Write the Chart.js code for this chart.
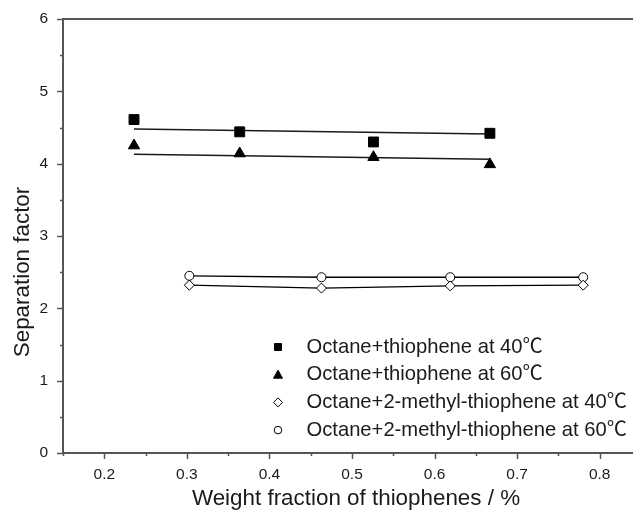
<!DOCTYPE html>
<html>
<head>
<meta charset="utf-8">
<script src="https://cdn.jsdelivr.net/npm/chart.js@4/dist/chart.umd.min.js"></script>
<style>
  html, body { margin: 0; padding: 0; background: #fff; overflow: hidden; }
  #wrap { width: 633px; height: 517px; overflow: hidden; }
</style>
</head>
<body>
<div id="wrap"><canvas id="chart" width="660" height="517"></canvas></div>
<script>
// values
const seriesLabels = [
    'Octane+thiophene at 40\u2103',
    'Octane+thiophene at 60\u2103',
    'Octane+2-methyl-thiophene at 40\u2103',
    'Octane+2-methyl-thiophene at 60\u2103'
]
const thioX = [0.236, 0.364, 0.526, 0.667]
const thio40Y = [4.61, 4.44, 4.30, 4.42]
const thio60Y = [4.25, 4.14, 4.09, 3.99]
const methylX = [0.303, 0.463, 0.619, 0.780]
const methyl40Y = [2.32, 2.28, 2.31, 2.32]
const methyl60Y = [2.45, 2.43, 2.43, 2.43]
// fitted lines (ends)
const fitX = [0.236, 0.667]
const fit40Y = [4.48, 4.41]
const fit60Y = [4.13, 4.06]

const xTickValues = [0.15, 0.2, 0.25, 0.3, 0.35, 0.4, 0.45, 0.5, 0.55, 0.6, 0.65, 0.7, 0.75, 0.8, 0.85]
const xTickLabels = ['', '0.2', '', '0.3', '', '0.4', '', '0.5', '', '0.6', '', '0.7', '', '0.8', '']
const yTickValues = [0, 0.5, 1, 1.5, 2, 2.5, 3, 3.5, 4, 4.5, 5, 5.5, 6]
const yTickLabels = ['0', '', '1', '', '2', '', '3', '', '4', '', '5', '', '6']
const xTitle = 'Weight fraction of thiophenes / %'
const yTitle = 'Separation factor'

const FONT = '"Liberation Sans", Arial, "Noto Sans CJK SC", sans-serif'
const AXIS = '#555'
const INK = '#1a1a1a'

const toPoints = (xs, ys) => xs.map((x, i) => ({x: x, y: ys[i]}))

const fitLine = (ys) => ({
    data: toPoints(fitX, ys),
    showLine: true,
    borderColor: '#1a1a1a',
    borderWidth: 1.5,
    pointRadius: 0,
    order: 3
})

const markerStyles = [
    {style: 'rect', fill: '#000', r: 7},
    {style: 'triangle', fill: '#000', r: 6.5},
    {style: 'rectRot', fill: '#fff', r: 5},
    {style: 'circle', fill: '#fff', r: 4.5}
]

const frame = {
    id: 'frame',
    afterDraw(chart) {
        const {ctx, chartArea, scales} = chart
        ctx.save()
        ctx.strokeStyle = AXIS
        ctx.lineWidth = 2
        ctx.beginPath()
        ctx.moveTo(chartArea.left - 1, chartArea.top)
        ctx.lineTo(chartArea.right, chartArea.top)
        ctx.stroke()

        ctx.lineWidth = 1.5
        scales.x.ticks.forEach(t => {
            const px = Math.round(scales.x.getPixelForValue(t.value)) + 0.5
            const len = t.label ? 6 : 3
            ctx.beginPath()
            ctx.moveTo(px, chartArea.bottom)
            ctx.lineTo(px, chartArea.bottom + len)
            ctx.stroke()
        })
        scales.y.ticks.forEach(t => {
            const py = Math.round(scales.y.getPixelForValue(t.value)) + 0.5
            const len = t.label ? 6 : 3
            ctx.beginPath()
            ctx.moveTo(chartArea.left - len, py)
            ctx.lineTo(chartArea.left, py)
            ctx.stroke()
        })

        // axis titles
        ctx.fillStyle = INK
        ctx.font = '22.4px ' + FONT
        ctx.textAlign = 'center'
        ctx.textBaseline = 'middle'
        ctx.fillText(xTitle, 356, 499)
        ctx.save()
        ctx.translate(23, 272)
        ctx.rotate(-Math.PI / 2)
        ctx.fillText(yTitle, 0, 0)
        ctx.restore()

        // legend
        ctx.font = '20.2px ' + FONT
        ctx.textAlign = 'left'
        seriesLabels.forEach((label, i) => {
            const cy = 347 + i * 27.7
            const cx = 278
            ctx.fillStyle = markerStyles[i].fill
            ctx.strokeStyle = '#000'
            ctx.lineWidth = 1
            ctx.beginPath()
            if (i === 0) {
                ctx.rect(cx - 3.5, cy - 3.5, 7, 7)
            } else if (i === 1) {
                ctx.moveTo(cx, cy - 4.5)
                ctx.lineTo(cx + 4.5, cy + 3.5)
                ctx.lineTo(cx - 4.5, cy + 3.5)
                ctx.closePath()
            } else if (i === 2) {
                ctx.moveTo(cx, cy - 4.5)
                ctx.lineTo(cx + 4.5, cy)
                ctx.lineTo(cx, cy + 4.5)
                ctx.lineTo(cx - 4.5, cy)
                ctx.closePath()
            } else {
                ctx.arc(cx, cy, 3.8, 0, Math.PI * 2)
            }
            ctx.fill()
            ctx.stroke()
            ctx.fillStyle = INK
            ctx.fillText(label, 306.5, cy)
        })
        ctx.restore()
    }
}

const ctx = document.getElementById('chart').getContext('2d')

const chart = new Chart(ctx, {
    type: 'scatter',
    data: {
        datasets: [
            fitLine(fit40Y),
            fitLine(fit60Y),
            ...[[thioX, thio40Y], [thioX, thio60Y], [methylX, methyl40Y], [methylX, methyl60Y]].map((s, i) => ({
                label: seriesLabels[i],
                data: toPoints(s[0], s[1]),
                showLine: i >= 2,
                borderColor: '#000',
                borderWidth: i >= 2 ? 1.3 : 1,
                backgroundColor: markerStyles[i].fill,
                pointStyle: markerStyles[i].style,
                pointRadius: markerStyles[i].r,
                pointBorderWidth: 1,
                pointBorderColor: '#000',
                pointBackgroundColor: markerStyles[i].fill,
                order: 1
            }))
        ]
    },
    options: {
        responsive: false,
        animation: false,
        events: [],
        layout: {padding: {top: 19, right: 19, left: 0, bottom: 0}},
        plugins: {
            legend: {display: false},
            tooltip: {enabled: false}
        },
        scales: {
            x: {
                type: 'linear',
                min: 0.15,
                max: 0.85,
                afterBuildTicks: (scale) => { scale.ticks = xTickValues.map(v => ({value: v})) },
                afterFit: (scale) => { scale.height = 64 },
                ticks: {
                    autoSkip: false,
                    maxRotation: 0,
                    padding: 6,
                    color: INK,
                    font: {family: FONT, size: 15.5},
                    callback: (v, i) => xTickLabels[i]
                },
                grid: {drawOnChartArea: false, drawTicks: true, tickLength: 6, tickColor: 'transparent'},
                border: {color: AXIS, width: 2}
            },
            y: {
                type: 'linear',
                min: 0,
                max: 6,
                afterBuildTicks: (scale) => { scale.ticks = yTickValues.map(v => ({value: v})) },
                afterFit: (scale) => { scale.width = 63 },
                ticks: {
                    autoSkip: false,
                    padding: 9,
                    color: INK,
                    font: {family: FONT, size: 15.5},
                    callback: (v, i) => yTickLabels[i]
                },
                grid: {drawOnChartArea: false, drawTicks: true, tickLength: 6, tickColor: 'transparent'},
                border: {color: AXIS, width: 2}
            }
        }
    },
    plugins: [frame]
})
</script>
</body>
</html>
